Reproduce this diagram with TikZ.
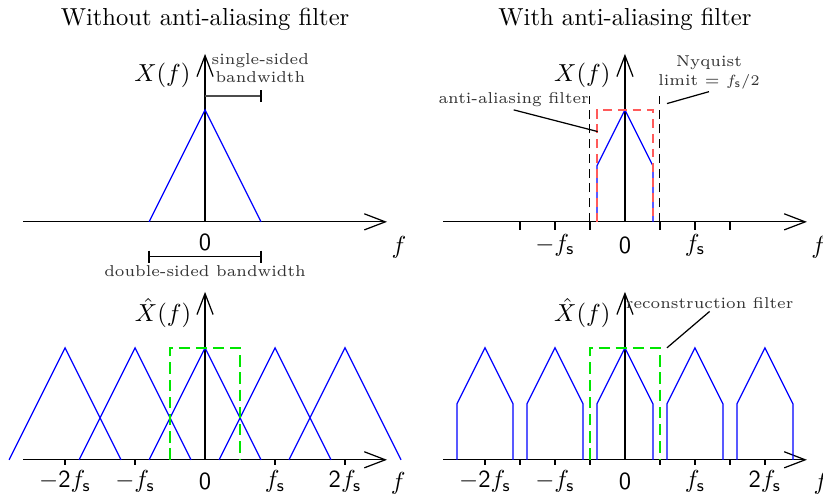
\documentclass[tikz,border=0pt]{standalone}
\usetikzlibrary{arrows.meta,positioning,calc}
\definecolor{sigblue}{HTML}{0000FF}
\definecolor{aafred}{HTML}{FF5A5A}
\definecolor{recgreen}{HTML}{00E600}

\begin{document}
\begin{tikzpicture}[
  axis/.style={black, line width=0.5pt, -{Straight Barb[length=3mm,width=2.3mm]}},
  spec/.style={sigblue, line width=0.5pt},
  tk/.style={black, line width=0.5pt},
  lbl/.style={inner sep=1pt},
  ann/.style={font=\fontsize{6.4}{7.4}\selectfont, align=center, inner sep=1pt, text=black!80},
  ttl/.style={font=\normalsize},
  nyqline/.style={black, dash pattern=on 3.6pt off 2.4pt},
  aafbox/.style={aafred, line width=0.6pt, dash pattern=on 3.6pt off 2.4pt},
  recbox/.style={recgreen, line width=0.6pt, dash pattern=on 4.6pt off 2.4pt},
  lead/.style={black, line width=0.5pt},
]
\useasboundingbox (-2.93,-3.9) rectangle (8.83,3.17);

%% ---- Titulos ----
\node[ttl] (ttlw)  at (0,2.89) {Without anti-aliasing filter};
\node[ttl] (ttla)  at (6,2.89) {With anti-aliasing filter};

%% ---- Arriba izquierda: espectro original ----
\draw[axis] (-2.6,0) -- (2.6,0);
\draw[axis] (0,0) -- (0,2.4);
\draw[spec] (-0.8,0) -- (0,1.6) -- (0.8,0);
\node[lbl] (xtl) at (-0.61,2.09) {$X(f)$};
\node[lbl] (ftl) at (2.77,-0.36) {$f$};
\node[lbl] (ztl) at (0,-0.3) {$\mathsf{0}$};
%% ancho de banda de un lado
\draw[black!70, line width=0.6pt] (0,1.8) -- (0.8,1.8);
\draw[black, line width=0.5pt] (0.8,1.71) -- (0.8,1.89);
\node[ann, anchor=south] (ssbw) at (0.79,1.95) {single-sided\\bandwidth};
%% ancho de banda de dos lados
\draw[black, line width=0.5pt] (-0.8,-0.5) -- (0.8,-0.5);
\draw[black, line width=0.5pt] (-0.8,-0.41) -- (-0.8,-0.59);
\draw[black, line width=0.5pt] (0.8,-0.41) -- (0.8,-0.59);
\node[ann] (dsbw) at (0,-0.71) {double-sided bandwidth};

%% ---- Arriba derecha: con filtro anti-aliasing ----
\begin{scope}[shift={(6,0)}]
\draw[axis] (-2.6,0) -- (2.6,0);
\draw[axis] (0,0) -- (0,2.4);
\draw[tk] (-1.5,0) -- (-1.5,-0.11);
\draw[tk] (-1,0) -- (-1,-0.11);
\draw[tk] (-0.5,0) -- (-0.5,-0.11);
\draw[tk] (0.5,0) -- (0.5,-0.11);
\draw[tk] (1,0) -- (1,-0.11);
\draw[tk] (1.5,0) -- (1.5,-0.11);
\node[lbl] (xtr) at (-0.61,2.09) {$X(f)$};
\node[lbl] (ftr) at (2.77,-0.37) {$f$};
\node[lbl] (mftr) at (-1,-0.33) {$-f_\mathsf{s}$};
\node[lbl] (ztr) at (0,-0.33) {$\mathsf{0}$};
\node[lbl] (pftr) at (1,-0.33) {$f_\mathsf{s}$};
%% espectro filtrado
\draw[spec] (-0.4,0) -- (-0.4,0.8) -- (0,1.6) -- (0.4,0.8) -- (0.4,0);
\draw[aafbox] (-0.4,0) -- (-0.4,1.6) -- (0.4,1.6) -- (0.4,0);
%% limite de Nyquist
\draw[nyqline] (-0.5,0) -- (-0.5,1.8);
\draw[nyqline] (0.5,0) -- (0.5,1.8);
\node[ann, anchor=south] (nyq) at (1.2,1.86) {Nyquist\\limit = $f_\mathsf{s}/2$};
\coordinate (nyqpt) at (0.6,1.69);
\draw[lead] (nyqpt) -- (nyq.south);
\node[ann, anchor=south] (aaf) at (-1.59,1.6) {anti-aliasing filter};
\coordinate (aafpt) at (-0.39,1.29);
\draw[lead] (aaf.south) -- (aafpt);
\end{scope}

%% ---- Abajo izquierda: muestreado sin filtro ----
\begin{scope}[shift={(0,-3.4)}]
\draw[axis] (-2.6,0) -- (2.6,0);
\draw[axis] (0,0) -- (0,2.4);
\draw[tk] (-2,0) -- (-2,-0.08);
\draw[tk] (-1,0) -- (-1,-0.08);
\draw[tk] (1,0) -- (1,-0.08);
\draw[tk] (2,0) -- (2,-0.08);
\draw[spec] (-2.8,0) -- (-2,1.6) -- (-1.2,0);
\draw[spec] (-1.8,0) -- (-1,1.6) -- (-0.2,0);
\draw[spec] (-0.8,0) -- (0,1.6) -- (0.8,0);
\draw[spec] (0.2,0) -- (1,1.6) -- (1.8,0);
\draw[spec] (1.2,0) -- (2,1.6) -- (2.8,0);
\draw[recbox] (-0.5,0) -- (-0.5,1.6) -- (0.5,1.6) -- (0.5,0);
\node[lbl] (xbl) at (-0.6,2.1) {$\hat{X}(f)$};
\node[lbl] (fbl) at (2.76,-0.33) {$f$};
\node[lbl] (m2bl) at (-2,-0.31) {$-\mathsf{2}f_\mathsf{s}$};
\node[lbl] (m1bl) at (-1,-0.31) {$-f_\mathsf{s}$};
\node[lbl] (zbl) at (0,-0.31) {$\mathsf{0}$};
\node[lbl] (p1bl) at (1,-0.31) {$f_\mathsf{s}$};
\node[lbl] (p2bl) at (2,-0.31) {$\mathsf{2}f_\mathsf{s}$};
\end{scope}

%% ---- Abajo derecha: muestreado con filtro ----
\begin{scope}[shift={(6,-3.4)}]
\draw[axis] (-2.6,0) -- (2.6,0);
\draw[axis] (0,0) -- (0,2.4);
\draw[tk] (-2,0) -- (-2,-0.08);
\draw[tk] (-1.5,0) -- (-1.5,-0.08);
\draw[tk] (-1,0) -- (-1,-0.08);
\draw[tk] (-0.5,0) -- (-0.5,-0.08);
\draw[tk] (0.5,0) -- (0.5,-0.08);
\draw[tk] (1,0) -- (1,-0.08);
\draw[tk] (1.5,0) -- (1.5,-0.08);
\draw[tk] (2,0) -- (2,-0.08);
\draw[spec] (-2.4,0) -- (-2.4,0.8) -- (-2,1.6) -- (-1.6,0.8) -- (-1.6,0);
\draw[spec] (-1.4,0) -- (-1.4,0.8) -- (-1,1.6) -- (-0.6,0.8) -- (-0.6,0);
\draw[spec] (-0.4,0) -- (-0.4,0.8) -- (0,1.6) -- (0.4,0.8) -- (0.4,0);
\draw[spec] (0.6,0) -- (0.6,0.8) -- (1,1.6) -- (1.4,0.8) -- (1.4,0);
\draw[spec] (1.6,0) -- (1.6,0.8) -- (2,1.6) -- (2.4,0.8) -- (2.4,0);
\draw[recbox] (-0.5,0) -- (-0.5,1.6) -- (0.5,1.6) -- (0.5,0);
\node[lbl] (xbr) at (-0.61,2.1) {$\hat{X}(f)$};
\node[lbl] (fbr) at (2.8,-0.33) {$f$};
\node[lbl] (m2br) at (-2,-0.31) {$-\mathsf{2}f_\mathsf{s}$};
\node[lbl] (m1br) at (-1,-0.31) {$-f_\mathsf{s}$};
\node[lbl] (zbr) at (0,-0.31) {$\mathsf{0}$};
\node[lbl] (p1br) at (1,-0.31) {$f_\mathsf{s}$};
\node[lbl] (p2br) at (2,-0.31) {$\mathsf{2}f_\mathsf{s}$};
%% filtro de reconstruccion
\node[ann, anchor=south] (rec) at (1.21,2.12) {reconstruction filter};
\coordinate (recpt) at (0.6,1.6);
\draw[lead] (rec.south) -- (recpt);
\end{scope}

\end{tikzpicture}
\end{document}
